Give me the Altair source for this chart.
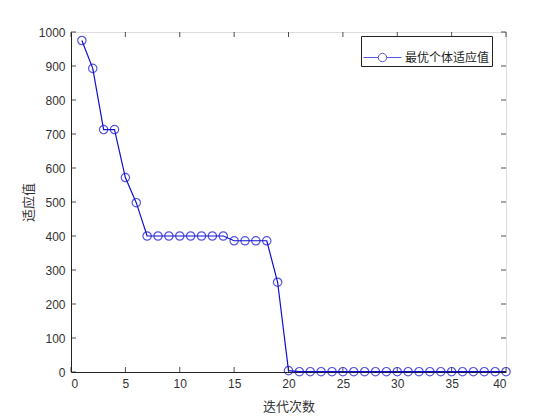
import altair as alt
import pandas as pd

iterations = list(range(1, 41))
fitness = [975, 893, 713, 713, 572, 498, 400, 400, 400, 400, 400, 400, 400, 400,
           386, 386, 386, 386, 264, 4] + [1] * 20
series_name = "最优个体适应值"
x_ticks = list(range(0, 41, 5))
y_ticks = list(range(0, 1001, 100))

df = pd.DataFrame({"iter": iterations, "fit": fitness, "s": series_name})

blue = "#1010d0"
cjk = "Noto Sans CJK SC"
lat = "Liberation Sans"

xs = alt.Scale(domain=[0, 40], nice=False, zero=False)
ys = alt.Scale(domain=[0, 1000], nice=False)

legend_path = "M-1,0L-0.22,0M0.22,0L1,0M0.22,0A0.22,0.22,0,1,1,-0.22,0A0.22,0.22,0,1,1,0.22,0"

color = alt.Color("s:N", scale=alt.Scale(range=[blue]), title=None,
                  legend=alt.Legend(orient="none", legendX=290, legendY=4,
                                    symbolType=legend_path, symbolSize=1444,
                                    symbolStrokeWidth=1, symbolFillColor="transparent",
                                    labelFont=cjk, labelFontSize=12, labelColor="#222",
                                    strokeColor="#222", fillColor="white",
                                    padding=2, symbolOffset=0, labelOffset=3))

axis_common = dict(grid=False, ticks=False, domainColor="#222", labelFont=lat,
                   labelFontSize=12, labelColor="#333", titleFont=cjk,
                   titleFontSize=13, titleFontWeight="normal", titleColor="#333",
                   labelOverlap=False, format="d")
x_axis = alt.Axis(values=x_ticks, title="迭代次数", labelPadding=6, titlePadding=11,
                  **axis_common)
y_axis = alt.Axis(values=y_ticks, title="适应值", labelPadding=6, titlePadding=3,
                  **axis_common)

base = alt.Chart(df)
line = base.mark_line(strokeWidth=1.2).encode(
    x=alt.X("iter:Q", scale=xs, axis=x_axis),
    y=alt.Y("fit:Q", scale=ys, axis=y_axis),
    color=color,
)
pts = base.mark_point(filled=False, size=70, strokeWidth=1.2).encode(
    x=alt.X("iter:Q", scale=xs, axis=x_axis), y=alt.Y("fit:Q", scale=ys, axis=y_axis),
    color=color)

# inward tick marks on all four sides
tx = pd.DataFrame({"t": x_ticks})
ty = pd.DataFrame({"t": y_ticks})
xb = alt.Chart(tx).mark_rule(color="#222", strokeWidth=0.8).encode(
    x=alt.X("t:Q", scale=xs, axis=x_axis), y=alt.value(340), y2=alt.value(335))
xt = alt.Chart(tx).mark_rule(color="#222", strokeWidth=0.8).encode(
    x=alt.X("t:Q", scale=xs, axis=x_axis), y=alt.value(0), y2=alt.value(5))
yl = alt.Chart(ty).mark_rule(color="#222", strokeWidth=0.8).encode(
    y=alt.Y("t:Q", scale=ys, axis=y_axis), x=alt.value(0), x2=alt.value(5))
yr = alt.Chart(ty).mark_rule(color="#222", strokeWidth=0.8).encode(
    y=alt.Y("t:Q", scale=ys, axis=y_axis), x=alt.value(430), x2=alt.value(435))

chart = alt.layer(line, pts, xb, xt, yl, yr).properties(
    width=435, height=340,
    padding={"top": 18, "left": 14, "right": 5, "bottom": 5},
).configure_view(stroke="#222", strokeWidth=1).configure(background="white")

chart.save("out.html", embed_options={"renderer": "svg", "actions": False})
